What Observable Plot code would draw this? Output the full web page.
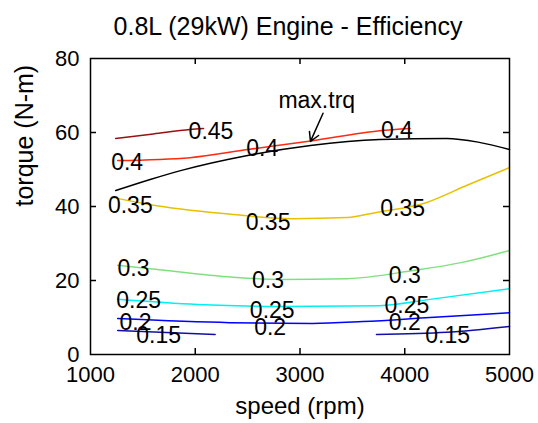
<!DOCTYPE html>
<html>
<head>
<meta charset="utf-8">
<script src="https://cdn.jsdelivr.net/npm/d3@7"></script>
<script src="https://cdn.jsdelivr.net/npm/@observablehq/plot@0.6"></script>
<style>
  html, body { margin: 0; padding: 0; background: #fff; }
  svg { display: block; }
</style>
</head>
<body>
<div id="chart"></div>
<script>
// ---- data ----
const titleText = "0.8L (29kW) Engine - Efficiency";
const xLabel = "speed (rpm)";
const yLabel = "torque (N-m)";
const xTickLabels = [1000, 2000, 3000, 4000, 5000];
const xInnerTicks = [2000, 3000, 4000];
const yTickLabels = [0, 20, 40, 60, 80];
const yInnerTicks = [20, 40, 60];

// max torque curve
const maxTrqRpm = [1240, 1570, 1860, 2500, 3100, 3760, 4400, 4700, 5000];
const maxTrqNm  = [44.3, 47.3, 49.7, 53.8, 56.5, 58.1, 58.4, 57.4, 55.4];

// efficiency contours (rpm, torque)
const eff045Rpm = [1240, 1600, 1950, 2080];
const eff045Nm  = [58.4, 59.6, 60.8, 61.1];
const eff040Rpm = [1260, 1950, 2500, 3120, 3760, 4050];
const eff040Nm  = [52.4, 53.2, 55.4, 57.8, 60.5, 61.1];
const eff035Rpm = [1220, 1570, 2270, 2930, 3450, 3730, 4210, 4600, 5000];
const eff035Nm  = [42.4, 40.5, 38.1, 36.7, 37.0, 38.4, 41.1, 45.8, 50.5];
const eff030Rpm = [1260, 1570, 2360, 2810, 3450, 4080, 4550, 5000];
const eff030Nm  = [24.1, 23.2, 20.9, 20.3, 20.5, 22.7, 24.9, 28.1];
const eff025Rpm = [1260, 2020, 2810, 3760, 4240, 5000];
const eff025Nm  = [14.9, 13.5, 13.0, 13.2, 14.9, 17.8];
const eff020Rpm = [1260, 2330, 3120, 3600, 4240, 5000];
const eff020Nm  = [9.7, 8.6, 8.4, 8.9, 10.0, 11.3];
const eff015aRpm = [1260, 2190];
const eff015aNm  = [6.5, 5.4];
const eff015bRpm = [3730, 4400, 5000];
const eff015bNm  = [5.4, 6.0, 7.6];

// contour labels
const labelText = ["0.45", "0.4", "0.4", "0.4", "0.35", "0.35", "0.35", "0.3", "0.3", "0.3",
                   "0.25", "0.25", "0.25", "0.2", "0.2", "0.2", "0.15", "0.15"];
const labelRpm  = [2150, 1350, 2640, 3925, 1380, 2695, 3980, 1410, 2695, 4000,
                   1460, 2735, 4020, 1430, 2715, 4000, 1650, 4410];
const labelNm   = [60.3, 51.9, 55.7, 60.5, 40.3, 35.7, 39.5, 23.2, 20.0, 21.4,
                   14.6, 11.9, 13.2, 8.6, 7.3, 8.6, 5.1, 5.1];

// max.trq annotation
const annText = "max.trq";
const annRpm = 3160, annNm = 68.6;
const arrowFrom = [3220, 65.2];
const arrowTo = [3100, 57.6];

// ---- build table ----
const curves = [
  {id: "maxtrq", color: "#000000", rpm: maxTrqRpm, nm: maxTrqNm},
  {id: "e045", color: "#9b1010", rpm: eff045Rpm, nm: eff045Nm},
  {id: "e040", color: "#ff2a10", rpm: eff040Rpm, nm: eff040Nm},
  {id: "e035", color: "#e8c000", rpm: eff035Rpm, nm: eff035Nm},
  {id: "e030", color: "#80e080", rpm: eff030Rpm, nm: eff030Nm},
  {id: "e025", color: "#00f0f0", rpm: eff025Rpm, nm: eff025Nm},
  {id: "e020", color: "#0000ff", rpm: eff020Rpm, nm: eff020Nm},
  {id: "e015a", color: "#1010a8", rpm: eff015aRpm, nm: eff015aNm},
  {id: "e015b", color: "#1010a8", rpm: eff015bRpm, nm: eff015bNm}
];
const lineRows = curves.flatMap(c => c.rpm.map((r, i) => ({id: c.id, color: c.color, rpm: r, nm: c.nm[i]})));
const labelRows = labelText.map((t, i) => ({t, rpm: labelRpm[i], nm: labelNm[i]}));

const FONT = "'Liberation Sans', Arial, Helvetica, sans-serif";
const W = 538, H = 423, ML = 90, MR = 29, MT = 58, MB = 69;
const frameW = W - ML - MR, frameH = H - MT - MB, TICK = 6;

const chart = Plot.plot({
  width: W,
  height: H,
  marginLeft: ML,
  marginRight: MR,
  marginTop: MT,
  marginBottom: MB,
  style: {fontFamily: FONT, background: "#fff", color: "#000"},
  x: {domain: [1000, 5000]},
  y: {domain: [0, 80]},
  marks: [
    Plot.line(lineRows, {x: "rpm", y: "nm", z: "id", stroke: "color", strokeWidth: 1.5, curve: "monotone-x"}),
    Plot.text(labelRows, {x: "rpm", y: "nm", text: "t", fill: "#000", fontSize: 23}),
    Plot.text([annText], {x: () => annRpm, y: () => annNm, fontSize: 23, fill: "#000"}),
    Plot.arrow([0], {x1: () => arrowFrom[0], y1: () => arrowFrom[1], x2: () => arrowTo[0], y2: () => arrowTo[1],
      stroke: "#000", strokeWidth: 1.5, headLength: 10}),
    Plot.frame({stroke: "#000", strokeWidth: 1.5}),
    // inward ticks
    Plot.tickX(xInnerTicks, {x: d => d, stroke: "#000", strokeWidth: 1.5, insetTop: frameH - TICK}),
    Plot.tickX(xInnerTicks, {x: d => d, stroke: "#000", strokeWidth: 1.5, insetBottom: frameH - TICK}),
    Plot.tickY(yInnerTicks, {y: d => d, stroke: "#000", strokeWidth: 1.5, insetRight: frameW - TICK}),
    Plot.tickY(yInnerTicks, {y: d => d, stroke: "#000", strokeWidth: 1.5, insetLeft: frameW - TICK}),
    // tick labels
    Plot.axisX({anchor: "bottom", ticks: xTickLabels, tickSize: 0, tickPadding: 12, fontSize: 22, label: null, tickFormat: d => String(d)}),
    Plot.axisY({anchor: "left", ticks: yTickLabels, tickSize: 0, tickPadding: 11, fontSize: 22, label: null, tickFormat: d => String(d)}),
    // titles
    Plot.text([titleText], {frameAnchor: "top", lineAnchor: "middle", dy: -32, dx: -12, fontSize: 25, fill: "#000"}),
    Plot.text([xLabel], {frameAnchor: "bottom", lineAnchor: "middle", dy: 52, fontSize: 24, fill: "#000"}),
    Plot.text([yLabel], {frameAnchor: "left", lineAnchor: "middle", dx: -66, rotate: -90, fontSize: 25, fill: "#000"})
  ]
});
document.getElementById("chart").appendChild(chart);
</script>
</body>
</html>
